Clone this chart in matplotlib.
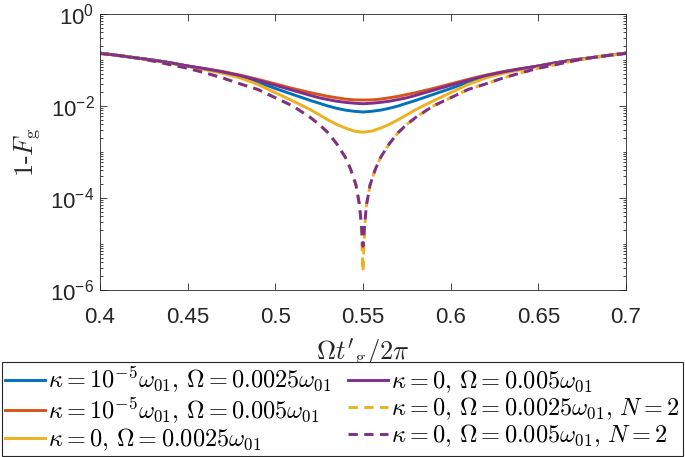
import matplotlib
matplotlib.use("Agg")
import matplotlib.pyplot as plt
from matplotlib.font_manager import FontProperties
from matplotlib.ticker import FixedLocator, FixedFormatter, LogLocator, NullFormatter, NullLocator

# ---------------- data ----------------
t_solid = [0.40, 0.41, 0.42, 0.43, 0.44, 0.45, 0.46, 0.47, 0.48, 0.49, 0.50, 0.51, 0.52,
           0.525, 0.53, 0.535, 0.54, 0.545, 0.55, 0.555, 0.56, 0.565, 0.57, 0.575,
           0.58, 0.59, 0.60, 0.61, 0.62, 0.63, 0.64, 0.65, 0.66, 0.67, 0.68, 0.69, 0.70]

blue_k1e5_O0025 = [0.141, 0.126, 0.112, 0.100, 0.0871, 0.0741, 0.0631, 0.0537, 0.0437, 0.0331, 0.0240, 0.0178, 0.0132,
                   0.0115, 0.0100, 0.00891, 0.00813, 0.00767, 0.00741, 0.00767, 0.00813, 0.00891, 0.0100, 0.0115,
                   0.0132, 0.0178, 0.0240, 0.0331, 0.0437, 0.0537, 0.0631, 0.0741, 0.0871, 0.100, 0.112, 0.126, 0.141]

red_k1e5_O005 = [0.141, 0.126, 0.112, 0.100, 0.0871, 0.0741, 0.0646, 0.0562, 0.0468, 0.0380, 0.0302, 0.0240, 0.0195,
                 0.0178, 0.0162, 0.0151, 0.0141, 0.0136, 0.0135, 0.0136, 0.0141, 0.0151, 0.0162, 0.0178,
                 0.0195, 0.0240, 0.0302, 0.0380, 0.0468, 0.0562, 0.0646, 0.0741, 0.0871, 0.100, 0.112, 0.126, 0.141]

yellow_k0_O0025 = [0.141, 0.126, 0.112, 0.0977, 0.0851, 0.0724, 0.0617, 0.0513, 0.0407, 0.0295, 0.0195, 0.0129, 0.00832,
                   0.00646, 0.00501, 0.00398, 0.00331, 0.00285, 0.00269, 0.00285, 0.00331, 0.00398, 0.00501, 0.00646,
                   0.00832, 0.0129, 0.0195, 0.0295, 0.0407, 0.0513, 0.0617, 0.0724, 0.0851, 0.0977, 0.112, 0.126, 0.141]

purple_k0_O005 = [0.141, 0.126, 0.112, 0.100, 0.0871, 0.0741, 0.0646, 0.0550, 0.0457, 0.0363, 0.0282, 0.0219, 0.0170,
                  0.0151, 0.0138, 0.0127, 0.0120, 0.0115, 0.0112, 0.0115, 0.0120, 0.0127, 0.0138, 0.0151,
                  0.0170, 0.0219, 0.0282, 0.0363, 0.0457, 0.0550, 0.0646, 0.0741, 0.0871, 0.100, 0.112, 0.126, 0.141]

t_dash = [0.40, 0.41, 0.42, 0.43, 0.44, 0.45, 0.46, 0.47, 0.48, 0.49, 0.50, 0.51, 0.52, 0.525, 0.53, 0.535,
          0.54, 0.543, 0.546, 0.548, 0.549, 0.55, 0.551, 0.552, 0.554, 0.557, 0.56,
          0.565, 0.57, 0.575, 0.58, 0.59, 0.60, 0.61, 0.62, 0.63, 0.64, 0.65, 0.66, 0.67, 0.68, 0.69, 0.70]

yellow_dash_N2 = [0.138, 0.126, 0.112, 0.0955, 0.0794, 0.0661, 0.0525, 0.0407, 0.0302, 0.0229, 0.0151, 0.0100, 0.00562,
                  0.00398, 0.00263, 0.00151, 0.000759, 0.000417, 0.000191, 7.08e-5, 2.5e-5, 2.5e-6, 2.5e-5, 7.08e-5,
                  0.000191, 0.000417, 0.000759, 0.00151, 0.00263, 0.00398, 0.00562, 0.0100, 0.0151, 0.0229, 0.0302,
                  0.0407, 0.0525, 0.0661, 0.0794, 0.0955, 0.112, 0.126, 0.138]

purple_dash_N2 = [0.138, 0.126, 0.112, 0.0955, 0.0794, 0.0661, 0.0525, 0.0407, 0.0302, 0.0229, 0.0151, 0.0100, 0.00562,
                  0.00398, 0.00263, 0.00151, 0.000759, 0.000417, 0.000191, 7.08e-5, 2.82e-5, 8.9e-6, 2.82e-5, 7.08e-5,
                  0.000191, 0.000417, 0.000759, 0.00151, 0.00263, 0.00398, 0.00562, 0.0100, 0.0151, 0.0229, 0.0302,
                  0.0407, 0.0525, 0.0661, 0.0794, 0.0955, 0.112, 0.126, 0.138]

legend_labels = [
    r"$\kappa=10^{-5}\omega_{01},\,\Omega=0.0025\omega_{01}$",
    r"$\kappa=10^{-5}\omega_{01},\,\Omega=0.005\omega_{01}$",
    r"$\kappa=0,\,\Omega=0.0025\omega_{01}$",
    r"$\kappa=0,\,\Omega=0.005\omega_{01}$",
    r"$\kappa=0,\,\Omega=0.0025\omega_{01},\,N=2$",
    r"$\kappa=0,\,\Omega=0.005\omega_{01},\,N=2$",
]
x_ticks = [0.4, 0.45, 0.5, 0.55, 0.6, 0.65, 0.7]
x_tick_labels = ["0.4", "0.45", "0.5", "0.55", "0.6", "0.65", "0.7"]
y_ticks = [1e-6, 1e-4, 1e-2, 1e0]
y_tick_labels = [r"$\mathregular{10^{-6}}$", r"$\mathregular{10^{-4}}$",
                 r"$\mathregular{10^{-2}}$", r"$\mathregular{10^{0}}$"]

# ---------------- style ----------------
plt.rcParams["mathtext.fontset"] = "custom"
plt.rcParams["mathtext.rm"] = "Liberation Sans"
plt.rcParams["mathtext.it"] = "Liberation Sans:italic"
plt.rcParams["mathtext.bf"] = "Liberation Sans:bold"
plt.rcParams["font.family"] = ["Liberation Sans", "DejaVu Sans"]

C_BLUE = "#0072BD"
C_RED = "#D95319"
C_YEL = "#EDB120"
C_PUR = "#7E2F8E"
AX_COL = "#262626"

fig = plt.figure(figsize=(6.85, 4.57), dpi=100)
ax = fig.add_axes([100 / 685, 1 - 290 / 457, 526 / 685, 276 / 457])

lw = 2.1
dash = (0, (3.2, 2.2))
h1, = ax.plot(t_solid, blue_k1e5_O0025, color=C_BLUE, lw=lw)
h2, = ax.plot(t_solid, red_k1e5_O005, color=C_RED, lw=lw)
h3, = ax.plot(t_solid, yellow_k0_O0025, color=C_YEL, lw=lw)
h4, = ax.plot(t_solid, purple_k0_O005, color=C_PUR, lw=lw)
h5, = ax.plot(t_dash, yellow_dash_N2, color=C_YEL, lw=lw, linestyle=dash)
h6, = ax.plot(t_dash, purple_dash_N2, color=C_PUR, lw=lw, linestyle=dash)

ax.set_yscale("log")
ax.set_xlim(0.4, 0.7)
ax.set_ylim(1e-6, 1)

ax.xaxis.set_major_locator(FixedLocator(x_ticks))
ax.xaxis.set_major_formatter(FixedFormatter(x_tick_labels))
ax.xaxis.set_minor_locator(NullLocator())
ax.yaxis.set_major_locator(FixedLocator(y_ticks))
ax.yaxis.set_major_formatter(FixedFormatter(y_tick_labels))
ax.yaxis.set_minor_locator(LogLocator(base=10, subs=[1, 2, 3, 4, 5, 6, 7, 8, 9], numticks=20))
ax.yaxis.set_minor_formatter(NullFormatter())

ax.tick_params(which="both", direction="in", top=True, right=True, color=AX_COL,
               labelcolor=AX_COL, labelsize=16, width=0.6)
ax.tick_params(which="major", length=5)
ax.tick_params(axis="y", which="major", pad=4)
ax.tick_params(axis="x", which="major", pad=12)
ax.tick_params(which="minor", length=2.5)
for s in ax.spines.values():
    s.set_color(AX_COL)
    s.set_linewidth(0.6)

ax.set_xlabel(r"$\Omega t'_{\rm g}/2\pi$", fontsize=19, color=AX_COL, math_fontfamily="cm", labelpad=6)
ax.set_ylabel(r"1-$F_{\rm g}$", fontsize=19, color=AX_COL, fontfamily="cmr10", math_fontfamily="cm", labelpad=6)

leg_font = FontProperties(size=17.5, math_fontfamily="cm")
leg = fig.legend([h1, h2, h3, h4, h5, h6], legend_labels, ncol=2, loc="lower left",
                 bbox_to_anchor=(2 / 685, 1 / 457, 681 / 685, 89 / 457), mode="expand",
                 prop=leg_font, frameon=True, fancybox=False, edgecolor=AX_COL, framealpha=1,
                 borderaxespad=0, handlelength=1.65, handletextpad=0.12, labelspacing=0.02,
                 borderpad=0.12, columnspacing=0.5)
leg.get_frame().set_linewidth(0.8)

fig.savefig("out.png", dpi=100)
